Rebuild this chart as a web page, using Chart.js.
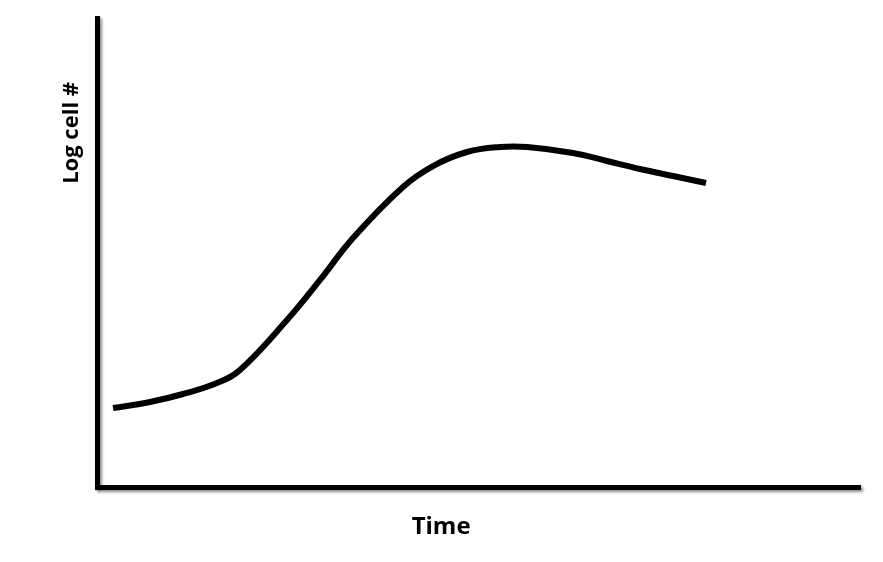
<!DOCTYPE html>
<html>
<head>
<meta charset="utf-8">
<script src="https://cdn.jsdelivr.net/npm/chart.js@4.4.1/dist/chart.umd.min.js"></script>
<style>
  html, body { margin: 0; padding: 0; background: #ffffff; }
  #wrap { width: 883px; height: 562px; position: relative; }
</style>
</head>
<body>
<div id="wrap"><canvas id="c"></canvas></div>
<script>
// ---- data ----
const timeValues = [2.1, 6.95, 11.27, 15.73, 18.74, 24.9, 29.23, 33.55, 40.1, 44.04, 48.49, 52.82, 56.36, 62.39, 66.84, 71.17, 75.49, 79.82];
const logCellValues = [16.84, 18.12, 19.83, 22.17, 24.95, 35.61, 44.14, 53.09, 63.97, 68.44, 71.43, 72.49, 72.49, 71.22, 69.51, 67.8, 66.31, 64.82];
const xAxisTitle = 'Time';
const yAxisTitle = 'Log cell #';

const points = timeValues.map((t, i) => ({ x: t, y: logCellValues[i] }));

// shadow behind the axis lines
const axisShadow = {
  id: 'axisShadow',
  beforeDraw(chart) {
    const ctx = chart.ctx;
    ctx.shadowColor = 'rgba(0,0,0,0.45)';
    ctx.shadowBlur = 3;
    ctx.shadowOffsetX = 2;
    ctx.shadowOffsetY = 2;
  },
  beforeDatasetsDraw(chart) {
    const ctx = chart.ctx;
    ctx.shadowColor = 'rgba(0,0,0,0)';
    ctx.shadowBlur = 0;
    ctx.shadowOffsetX = 0;
    ctx.shadowOffsetY = 0;
  }
};

// axis titles placed as in the reference
const axisTitles = {
  id: 'axisTitles',
  afterDraw(chart) {
    const ctx = chart.ctx;
    const xs = chart.scales.x, ys = chart.scales.y;
    ctx.save();
    ctx.fillStyle = '#000000';
    ctx.font = 'bold 24px "Open Sans"';
    ctx.textAlign = 'center';
    ctx.textBaseline = 'middle';
    ctx.fillText(xAxisTitle, xs.getPixelForValue(45.1), ys.bottom + 40);
    ctx.translate(xs.left - 25, ys.getPixelForValue(75.5));
    ctx.rotate(-Math.PI / 2);
    ctx.font = 'bold 22px "Open Sans"';
    ctx.fillText(yAxisTitle, 0, 0);
    ctx.restore();
  }
};

new Chart(document.getElementById('c'), {
  type: 'line',
  data: {
    datasets: [{
      data: points,
      borderColor: '#000000',
      borderWidth: 6,
      borderCapStyle: 'butt',
      borderJoinStyle: 'round',
      fill: false,
      pointRadius: 0,
      tension: 0.4
    }]
  },
  options: {
    responsive: true,
    maintainAspectRatio: false,
    animation: false,
    devicePixelRatio: 1,
    layout: { padding: { left: 97, right: 23, top: 18, bottom: 75 } },
    plugins: { legend: { display: false }, tooltip: { enabled: false }, title: { display: false } },
    scales: {
      x: {
        type: 'linear', min: 0, max: 100,
        grid: { display: false, drawTicks: false },
        border: { display: true, color: '#000000', width: 5 },
        ticks: { display: false },
        title: { display: false }
      },
      y: {
        type: 'linear', min: 0, max: 100,
        grid: { display: false, drawTicks: false },
        border: { display: true, color: '#000000', width: 5 },
        ticks: { display: false },
        title: { display: false }
      }
    }
  },
  plugins: [axisShadow, axisTitles]
});
</script>
</body>
</html>
